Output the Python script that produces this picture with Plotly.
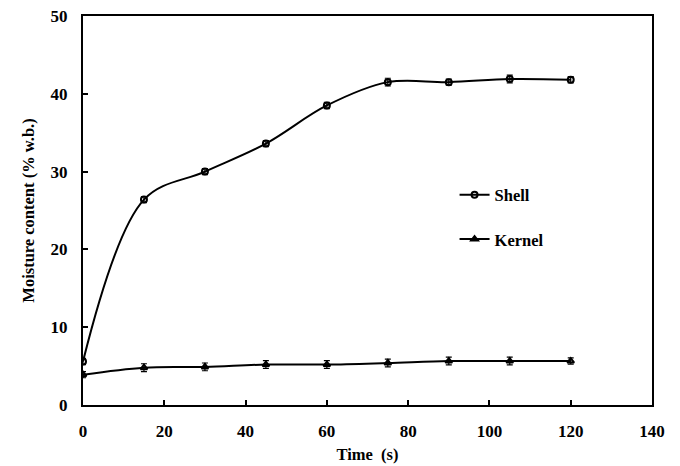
import plotly.graph_objects as go

time_s = [0, 15, 30, 45, 60, 75, 90, 105, 120]
shell = [5.6, 26.4, 30.0, 33.6, 38.5, 41.5, 41.5, 41.9, 41.8]
shell_err = [0.4, 0.4, 0.4, 0.4, 0.4, 0.5, 0.4, 0.5, 0.4]
kernel = [3.9, 4.8, 4.9, 5.2, 5.2, 5.4, 5.65, 5.65, 5.65]
kernel_err = [0.4, 0.5, 0.5, 0.5, 0.5, 0.5, 0.5, 0.5, 0.4]

x_ticks = [0, 20, 40, 60, 80, 100, 120, 140]
y_ticks = [0, 10, 20, 30, 40, 50]

FONT = "Liberation Serif, Times New Roman, serif"

fig = go.Figure()
fig.add_trace(go.Scatter(
    x=time_s, y=shell, name="Shell", mode="lines+markers",
    line=dict(color="black", width=2, shape="spline", smoothing=1),
    marker=dict(symbol="circle-open", size=6, color="black", line=dict(width=2)),
    error_y=dict(type="data", array=shell_err, color="black", thickness=1.2, width=3),
    legendgroup="a",
))
fig.add_trace(go.Scatter(
    x=time_s, y=kernel, name="Kernel", mode="lines+markers",
    line=dict(color="black", width=2, shape="spline", smoothing=1),
    marker=dict(symbol="triangle-up-open", size=6, color="black", line=dict(width=2)),
    error_y=dict(type="data", array=kernel_err, color="black", thickness=1.2, width=3),
    legendgroup="b",
))

axis_common = dict(
    showgrid=False, zeroline=False, showline=True, linecolor="black", linewidth=2,
    mirror=True, ticks="inside", ticklen=5, tickwidth=2, tickcolor="black",
    tickfont=dict(family=FONT, size=17, color="black", weight="bold"),
    ticklabelstandoff=10, automargin=False,
)

fig.update_layout(
    width=680, height=466,
    margin=dict(l=83, r=28, t=16, b=61),
    paper_bgcolor="white", plot_bgcolor="white",
    font=dict(family=FONT, color="black"),
    xaxis=dict(range=[0, 140], tickvals=x_ticks,
               title=dict(text="Time  (s)", font=dict(family=FONT, size=16.5, weight="bold"), standoff=8),
               **axis_common),
    yaxis=dict(range=[0, 50], tickvals=y_ticks,
               title=dict(text="Moisture content (% w.b.)", font=dict(family=FONT, size=16.5, weight="bold"), standoff=12),
               **axis_common),
    legend=dict(x=0.653, y=0.585, xanchor="left", yanchor="top",
                font=dict(family=FONT, size=16.5, color="black", weight="bold"),
                bgcolor="rgba(0,0,0,0)", tracegroupgap=20, traceorder="grouped",
                itemwidth=30),
    showlegend=True,
)

fig.write_html("out.html")
